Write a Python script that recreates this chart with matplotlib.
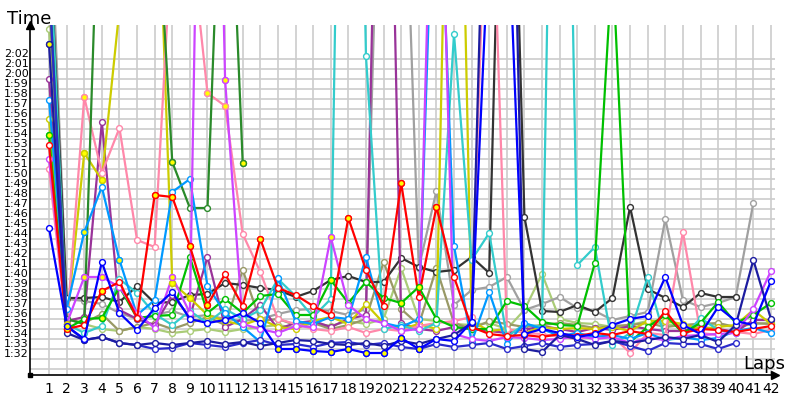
import numpy as np
import matplotlib
matplotlib.use('Agg')
import matplotlib.pyplot as plt

# lap times in seconds (95.3 = 1:35.3), lap 1..42, None = not running
N = None
laps = list(range(1, 43))

black = [135, 98.1, 98.1, 98.2, 97.7, 99.3, 97.6, 97.7, 98.4, 98.5, 99.6, 99.4, 99.1, 98.9, 98.2, 98.8,
         99.9, 100.3, 99.7, 99.7, 102.1, 101.2, 100.7, 100.9, 102.2, 100.6, 170, 106.2, 96.8, 96.7, 97.4,
         96.7, 98.1, 107.2, 99.0, 98.1, 97.2, 98.6, 98.2, 98.2, N, N]
gray = [140, 98.0, 97.8, 97.5, 96.6, 96.0, 96.4, 96.8, 96.2, 96.4, 96.0, 95.8, 96.0, 96.5, 96.9, 97.0,
        96.8, 96.4, 97.0, 160, 153, 101.1, 108.8, 97.4, 98.9, 99.2, 100.2, 96.9, 97.5, 98.2, 97.1, 96.8,
        95.9, 96.3, 96.7, 106.0, 97.9, 97.2, 97.6, 98.2, 107.6, N]
pink = [111, 95.0, 118.2, 110.6, 115.1, 103.9, 103.2, 135, 135, 118.6, 117.3, 104.5, 100.7, 96.0, 95.5,
        95.0, 94.8, 95.2, 94.6, 95.0, 94.8, 95.3, 95.6, 95.8, 96.2, 150, 95.0, 94.6, 94.5, 94.2, 94.0,
        94.3, 94.3, 92.6, 94.6, 94.4, 104.7, 94.6, 94.4, 94.7, 94.5, 94.9]
navy = [123.5, 94.6, 93.9, 94.2, 93.6, 93.4, 93.6, 93.4, 93.6, 93.8, 93.5, 93.7, 93.3, 93.6, 93.9, 93.8,
        93.5, 93.4, 93.6, 93.3, 93.8, 93.5, 94.0, 94.4, 95.6, 160, 172, 93.0, 92.7, 94.4, 94.0, 93.4,
        93.8, 93.6, 93.9, 94.2, 94.0, 94.4, 93.7, 95.4, 101.9, 96.0]
navy2 = [130, 95.3, 93.9, 94.2, 93.6, 93.4, 93.0, 93.1, 93.6, 93.4, 93.2, 93.6, 93.9, 93.4, 93.5, 93.2,
         93.6, 93.7, 93.4, 93.6, 93.2, 93.0, 93.5, 93.2, 93.4, 93.6, 93.0, 93.3, 93.6, 93.2, 93.4, 93.5,
         93.8, 93.3, 92.8, 93.6, 93.5, 93.5, 93.0, 93.6, N, N]
blue = [105.1, 95.3, 94.0, 101.7, 96.6, 94.9, 97.1, 98.7, 96.0, 95.6, 95.9, 96.6, 95.6, 93.0, 93.0, 92.8,
        92.7, 93.0, 92.6, 92.6, 94.1, 93.0, 94.0, 93.8, 95.7, 135, 140, 94.5, 95.0, 94.6, 94.2, 94.5,
        95.4, 96.0, 96.3, 100.2, 95.4, 94.5, 97.2, 95.8, 95.4, 99.8]
red = [113.4, 95.0, 95.4, 98.8, 99.7, 96.1, 108.4, 108.2, 103.3, 97.4, 100.5, 97.3, 104.0, 99.1, 98.4,
       97.3, 96.4, 106.1, 100.9, 97.3, 109.6, 98.2, 107.2, 100.2, 95.2, 94.5, 94.3, 94.4, 94.2, 94.5,
       94.3, 94.6, 94.4, 94.8, 94.5, 96.8, 94.6, 95.0, 94.9, 94.7, 95.0, 95.3]
green = [114.4, 95.0, 96.0, 96.1, 99.2, 96.1, 96.3, 96.4, 102.2, 96.6, 98.0, 96.6, 98.3, 98.5, 96.4, 96.4,
         99.9, 97.6, 99.7, 98.1, 97.6, 99.2, 96.0, 95.2, 95.0, 95.0, 97.8, 97.3, 95.7, 95.4, 95.3, 101.6,
         132, 93.7, 95.2, 96.4, 94.6, 95.6, 97.7, 95.6, 96.4, 97.6]
darkgreen = [130, 96.0, 95.5, 150, 150, 150, 142, 111.7, 107.1, 107.1, 154, 111.6] + [N] * 30
yellow = [116, 95.5, 112.6, 109.9, 127, 140, 150, 99.6, 98.1, 96.4, 95.8, 95.4, 96.0, 95.2, 95.0, 95.8,
          96.2, 95.5, 97.5, 95.6, 95.0, 95.5, 95.0, 180, 95.8, 94.8, 95.0, 94.6, 95.2, 95.0, 95.1, 95.0,
          95.2, 94.8, 95.8, 95.8, 95.5, 95.0, 95.2, 95.4, 96.9, 95.5]
magenta = [112, 95.5, 100.2, 100.2, 99.2, 96.6, 95.1, 100.2, 96.6, 200, 119.9, 95.5, 95.0, 94.6, 95.3,
           95.2, 104.2, 97.4, 96.0, 95.6, 94.8, 95.0, 160, 94.5, 94.0, 93.8, 94.2, 94.1, 93.9, 94.0, 94.3,
           94.0, 94.2, 93.6, 94.1, 93.9, 94.3, 94.4, 94.5, 94.6, 97.0, 100.8]
purple = [120, 95.8, 96.2, 115.7, 96.9, 96.0, 95.4, 98.4, 96.2, 102.2, 95.2, 96.0, 97.4, 95.0, 95.6, 95.8,
          95.2, 96.0, 96.4, 180, 95.6, 95.0, 94.8, 95.2, 95.0, 94.8, 94.6, 94.9, 95.3, 95.0, 94.7, 95.1,
          94.9, 95.3, 95.0, 94.8, 94.8, 95.2, 95.0, 94.7, 95.9, 95.9]
lightblue = [117.9, 97.0, 104.7, 109.2, 101.9, 96.4, 97.9, 108.7, 110.0, 99.3, 96.6, 95.2, 93.7, 100.1,
             95.8, 95.5, 96.2, 96.0, 102.2, 95.6, 95.2, 96.0, 150, 103.3, 93.7, 98.7, 93.5, 95.6, 95.0,
             94.3, 94.6, 94.2, 94.4, 94.0, 94.6, 93.9, 94.2, 93.9, 94.1, 94.8, 95.1, 94.6]
cyan = [135, 95.5, 94.6, 95.3, 100.0, 98.6, 96.5, 95.4, 96.8, 95.6, 97.0, 96.0, 96.9, 100.0, 98.3, 96.2,
        98.0, 210, 122.3, 95.0, 95.4, 94.8, 95.6, 124.5, 101.9, 104.6, 94.2, 95.5, 95.2, 200, 101.4, 103.2,
        93.4, 94.6, 100.2, 93.9, 94.1, 96.1, 94.9, 94.6, N, N]
olive = [128, 96.0, 95.6, 96.5, 94.8, 95.2, 95.6, 95.0, 95.6, 96.2, 95.4, 100.9, 95.8, 96.0, 95.4, 95.6,
         95.0, 95.4, 96.0, 101.7, 97.0, 95.4, 101.1, 95.6, 95.0, 95.8, 95.5, 95.2, 95.4, 95.6, 95.4, 95.1,
         95.3, 95.4, 95.6, 95.2, 95.4, 95.5, 95.6, 95.2, 95.6, 95.5]
lightgreen = [125, 96.0, 95.5, 95.0, 94.8, 95.2, 95.0, 94.6, 94.8, 95.0, 94.7, 95.0, 95.2, 95.4, 95.1,
              95.6, 95.3, 95.8, 95.5, 96.0, 101.1, 96.0, 95.8, 95.5, 95.4, 95.6, 95.0, 96.9, 100.5, 96.0,
              95.6, 95.5, 95.2, 95.4, 95.8, 95.5, 95.3, 95.6, 95.4, 95.2, 95.5, 95.6]

# laps drawn with a yellow marker
black_y, gray_y, pink_y, navy_y, navy2_y = [], [], [3, 10, 11], [1], []
blue_y = [2, 14, 15, 16, 17, 18, 19, 20, 21, 22]
red_y = [2, 4, 7, 8, 9, 10, 13, 18, 21, 23]
green_y = [1, 4, 17, 21, 22]
darkgreen_y = [8, 12]
yellow_y = [2, 3, 4, 8, 9]
magenta_y = [3, 4, 8, 11, 17]
purple_y, lightblue_y, cyan_y, olive_y, lightgreen_y = [], [3, 5], [], [], []

drivers = [
    (lightgreen, lightgreen_y, '#aacc77'), (olive, olive_y, '#999966'), (gray, gray_y, '#a0a0a0'),
    (black, black_y, '#333333'), (purple, purple_y, '#993399'), (yellow, yellow_y, '#cccc00'),
    (pink, pink_y, '#ff88aa'), (cyan, cyan_y, '#33cccc'), (darkgreen, darkgreen_y, '#2a8a2a'),
    (green, green_y, '#00c000'), (lightblue, lightblue_y, '#0099ff'), (magenta, magenta_y, '#cc44ff'),
    (red, red_y, '#ff0000'), (navy2, navy2_y, '#2b2bcc'), (navy, navy_y, '#1c1ca0'), (blue, blue_y, '#0000ff'),
]

ytick_vals = list(range(92, 123))
ytick_labels = ['%d:%02d' % (v // 60, v % 60) for v in ytick_vals]

fig = plt.figure(figsize=(8, 4), dpi=100)
ax = fig.add_axes([30 / 800, 25 / 400, 745 / 800, 350 / 400])

for v in range(91, 123):
    ax.axhline(v, color='#cccccc', lw=1.2, zorder=0)
for l in laps:
    ax.axvline(l, color='#cccccc', lw=1.2, zorder=0)

x = np.array(laps)
for vals, yl, c in drivers:
    y = np.array([np.nan if v is None else v for v in vals], dtype=float)
    ax.plot(x, y, color=c, lw=1.6, marker='o', ms=4.2, mfc='white', mec=c, mew=1.0, zorder=2)
    if yl:
        idx = np.array(yl) - 1
        ax.plot(x[idx], y[idx], ls='none', marker='o', ms=4.2, mfc='#ffff00', mec=c, mew=1.0, zorder=3)

ax.set_xlim(-0.08, 42.23)
ax.set_ylim(90.4, 125.4)
ax.set_xticks(laps)
ax.set_xticklabels([str(l) for l in laps], fontsize=10)
ax.set_yticks(ytick_vals)
ax.set_yticklabels(ytick_labels, fontsize=8)
for t in ax.get_yticklabels():
    t.set_verticalalignment('bottom')
ax.tick_params(axis='both', length=0)
ax.tick_params(axis='y', pad=1)
ax.tick_params(axis='x', pad=5)

for s in ['top', 'right']:
    ax.spines[s].set_visible(False)
for s in ['left', 'bottom']:
    ax.spines[s].set_color('black')
    ax.spines[s].set_linewidth(1.2)
ax.plot(0, 1, marker='^', color='black', ms=6, transform=ax.transAxes, clip_on=False)
ax.plot(1, 0, marker='>', color='black', ms=6, transform=ax.transAxes, clip_on=False)
ax.plot(0, 0, marker='s', color='black', ms=3, transform=ax.transAxes, clip_on=False)

fig.text(7 / 800, 1 - 24 / 400, 'Time', fontsize=13, va='baseline')
fig.text(743 / 800, 1 - 369 / 400, 'Laps', fontsize=13, va='baseline')

fig.savefig('out.png', dpi=100)
